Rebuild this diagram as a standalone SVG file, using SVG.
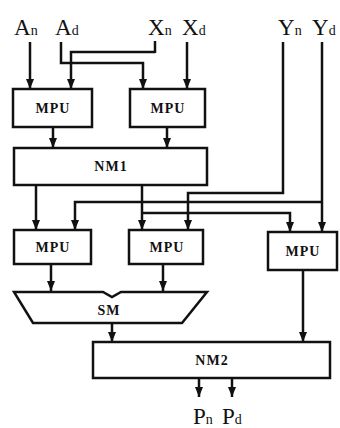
<svg xmlns="http://www.w3.org/2000/svg" width="340" height="428" viewBox="0 0 340 428">
<defs>
<marker id="ah" markerWidth="10" markerHeight="8" refX="10" refY="4" orient="auto" markerUnits="userSpaceOnUse" viewBox="0 0 10 8">
<path d="M0,0 L10,4 L0,8 Z" fill="#111"/>
</marker>
</defs>
<style>
.box{fill:#fff;stroke:#111;stroke-width:2.5}
.lbl{font-family:"Liberation Serif","Times New Roman",serif;font-weight:bold;font-size:14px;letter-spacing:1px;fill:#111;text-anchor:middle}
.io{font-family:"Liberation Serif","Times New Roman",serif;font-size:23px;fill:#111}
.sub{font-size:14px}
.w{fill:none;stroke:#111;stroke-width:2.5}
.wa{fill:none;stroke:#111;stroke-width:2.5;marker-end:url(#ah)}
</style>
<rect width="340" height="428" fill="#fff"/>
<g id="labels">
<text class="io" x="14" y="35">A<tspan class="sub">n</tspan></text>
<text class="io" x="55" y="35">A<tspan class="sub">d</tspan></text>
<text class="io" x="148" y="35">X<tspan class="sub">n</tspan></text>
<text class="io" x="182" y="35">X<tspan class="sub">d</tspan></text>
<text class="io" x="278" y="35">Y<tspan class="sub">n</tspan></text>
<text class="io" x="312" y="35">Y<tspan class="sub">d</tspan></text>
<text class="io" x="193" y="424">P<tspan class="sub">n</tspan></text>
<text class="io" x="222" y="424">P<tspan class="sub">d</tspan></text>
</g>
<g id="connectors">
<path class="wa" d="M30,42 V89"/>
<path class="wa" d="M61,42 V63 H143 V89"/>
<path class="w" d="M155,41 V53"/>
<path class="wa" d="M155,52 H71 V89"/>
<path class="wa" d="M187,42 V89"/>
<path class="wa" d="M53,127 V148"/>
<path class="wa" d="M167,127 V148"/>
<path class="wa" d="M36,185 V230"/>
<path class="wa" d="M142,185 V230"/>
<path class="wa" d="M142,213 H290 V232"/>
<path class="wa" d="M283,42 V193 H188 V230"/>
<path class="wa" d="M322,42 V232"/>
<path class="wa" d="M322,202 H75 V230"/>
<path class="wa" d="M51,264 V291"/>
<path class="wa" d="M163,264 V291"/>
<path class="wa" d="M112,323 V342"/>
<path class="wa" d="M303,270 V342"/>
<path class="wa" d="M199,378 V397"/>
<path class="wa" d="M232,378 V397"/>
</g>
<g id="mpu1"><rect class="box" x="13" y="89" width="79" height="38"/><text class="lbl" x="53" y="113">MPU</text></g>
<g id="mpu2"><rect class="box" x="130" y="89" width="75" height="38"/><text class="lbl" x="168" y="113">MPU</text></g>
<g id="nm1"><rect class="box" x="14" y="148" width="193" height="37"/><text class="lbl" x="111" y="171">NM1</text></g>
<g id="mpu3"><rect class="box" x="14" y="230" width="77" height="34"/><text class="lbl" x="53" y="252">MPU</text></g>
<g id="mpu4"><rect class="box" x="129" y="230" width="74" height="34"/><text class="lbl" x="167" y="252">MPU</text></g>
<g id="mpu5"><rect class="box" x="268" y="232" width="69" height="38"/><text class="lbl" x="303" y="256">MPU</text></g>
<g id="sm"><path class="box" d="M14,292 H103 L112,297 L121,292 H207 L182,323 H33 Z"/><text class="lbl" x="109" y="315">SM</text></g>
<g id="nm2"><rect class="box" x="93" y="342" width="237" height="36"/><text class="lbl" x="212" y="365">NM2</text></g>
</svg>
